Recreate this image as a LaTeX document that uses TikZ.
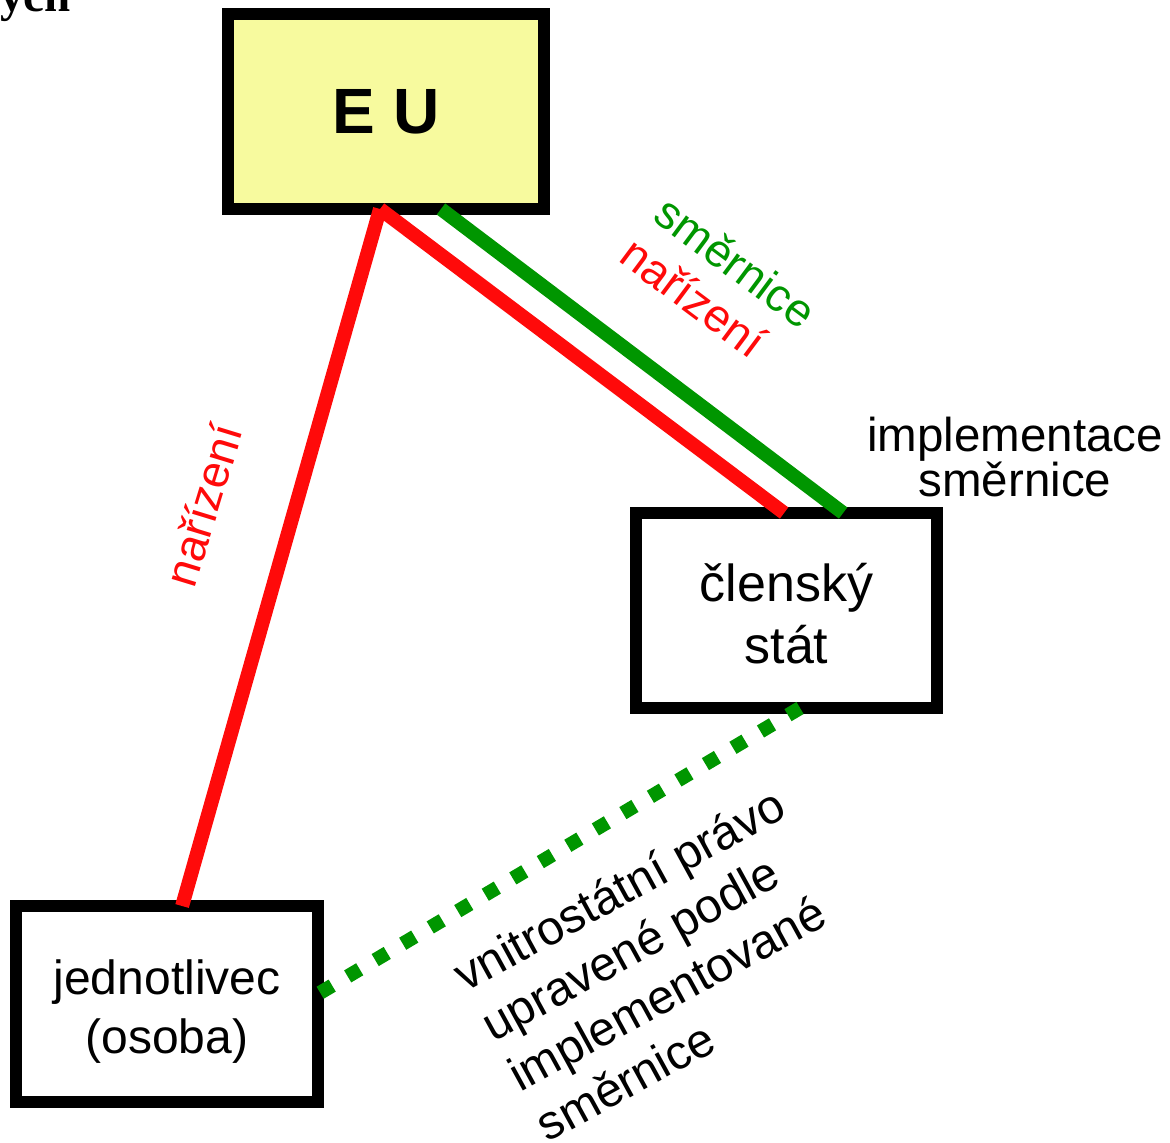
\documentclass[tikz,border=0pt]{standalone}
\usepackage{fontspec}
\setmainfont{Liberation Sans}
\newfontfamily\timesf{Liberation Serif}
\usetikzlibrary{calc}
\definecolor{eured}{RGB}{255,10,10}
\definecolor{eugreen}{RGB}{0,150,0}
\definecolor{euyellow}{RGB}{247,250,158}
\begin{document}
\begin{tikzpicture}[x=1pt,y=-1pt,
  box/.style={draw=black, line width=12pt, rectangle, inner sep=0pt, outer sep=0pt, align=center},
  redline/.style={draw=eured, line width=14pt},
  greenline/.style={draw=eugreen, line width=14pt},
  dotline/.style={draw=eugreen, line width=14pt, dash pattern=on 14pt off 18pt},
  lbl/.style={inner sep=0pt, align=center, font=\fontsize{46}{50}\selectfont}]
\useasboundingbox (0,0) rectangle (1170,1143);
\clip (0,0) rectangle (1170,1143);
% top-left fragment
\node[anchor=base west, inner sep=0pt, font=\timesf\bfseries\fontsize{47}{50}\selectfont] (ych) at (0,12) {ych};
% boxes
\node[box, fill=euyellow, minimum width=316pt, minimum height=195pt,
      font=\bfseries\fontsize{64}{70}\selectfont] (eu) at (386,111.5) {E U};
\node[box, fill=white, minimum width=301pt, minimum height=195pt,
      font=\fontsize{52}{62}\selectfont] (ms) at (786.5,610.5) {\rule{0pt}{44pt}členský\\stát};
\node[box, fill=white, minimum width=302pt, minimum height=196pt,
      font=\fontsize{48}{59}\selectfont] (os) at (167,1004) {\rule{0pt}{50pt}jednotlivec\\(osoba)};
% connection points
\coordinate (apex) at ($(eu.south west)!0.481!(eu.south east)$);
\coordinate (euG) at ($(eu.south west)!0.674!(eu.south east)$);
\coordinate (msR) at ($(ms.north west)!0.492!(ms.north east)$);
\coordinate (msG) at ($(ms.north west)!0.688!(ms.north east)$);
\coordinate (msB) at ($(ms.south west)!0.545!(ms.south east)$);
\coordinate (osT) at ($(os.north west)!0.55!(os.north east)$);
\coordinate (osR) at ($(os.north east)!0.449!(os.south east)$);
% connectors
\draw[redline] (apex) -- (osT);
\draw[redline] (apex) -- (msR);
\draw[greenline] (euG) -- (msG);
\draw[dotline] (msB) -- (osR);
% labels
\node[lbl, text=eured, rotate=73] (l1) at (203,505) {nařízení};
\node[lbl, text=eugreen, rotate=-36.7] (l2) at (736,262) {směrnice};
\node[lbl, text=eured, rotate=-36.7] (l3) at (694,297) {nařízení};
\node[inner sep=0pt, align=center, font=\fontsize{47.5}{45}\selectfont] (l4) at (1015,457) {implementace\\směrnice};
\node[inner sep=0pt, align=left, rotate=28.7, font=\fontsize{48}{57}\selectfont] (l5) at (660,964)
  {vnitrostátní právo\\upravené podle\\implementované\\směrnice};
\end{tikzpicture}
\end{document}
